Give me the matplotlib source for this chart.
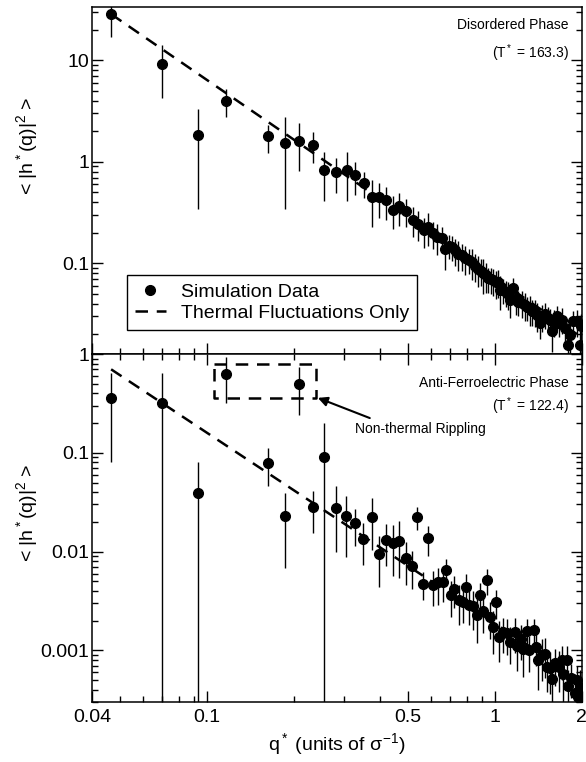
import matplotlib
matplotlib.use("Agg")
import matplotlib.pyplot as plt
from matplotlib.ticker import FixedLocator, LogLocator, NullFormatter, FuncFormatter

plt.rcParams['font.family'] = ['Liberation Sans', 'DejaVu Sans']
plt.rcParams['mathtext.fontset'] = 'custom'
plt.rcParams['mathtext.rm'] = 'Liberation Sans'
plt.rcParams['mathtext.it'] = 'Liberation Sans'

# disordered phase (T* = 163.3)
top_q = [0.0466, 0.070, 0.0934, 0.1166, 0.1636, 0.187, 0.209, 0.234, 0.256, 0.281,
         0.306, 0.327, 0.351, 0.373, 0.397, 0.42, 0.443, 0.465, 0.491, 0.52,
         0.541, 0.567, 0.586, 0.61, 0.63, 0.653, 0.67, 0.69, 0.709, 0.727,
         0.745, 0.766, 0.786, 0.81, 0.831, 0.852, 0.874, 0.892, 0.909, 0.928,
         0.946, 0.965, 0.985, 1.005, 1.025, 1.04, 1.065, 1.09, 1.11, 1.13,
         1.156, 1.18, 1.2, 1.235, 1.27, 1.295, 1.32, 1.345, 1.37, 1.40,
         1.43, 1.46, 1.49, 1.52, 1.55, 1.57, 1.60, 1.64, 1.67, 1.70,
         1.75, 1.79, 1.82, 1.87, 1.92, 1.97, 1.99]
top_h = [28.9, 9.3, 1.84, 3.99, 1.78, 1.54, 1.62, 1.47, 0.836, 0.79,
         0.836, 0.734, 0.616, 0.45, 0.45, 0.418, 0.338, 0.365, 0.328, 0.27,
         0.247, 0.212, 0.23, 0.197, 0.182, 0.176, 0.137, 0.15, 0.145, 0.135,
         0.125, 0.12, 0.112, 0.108, 0.104, 0.095, 0.089, 0.085, 0.080, 0.076,
         0.071, 0.070, 0.068, 0.065, 0.066, 0.0547, 0.055, 0.052, 0.05, 0.0437,
         0.057, 0.046, 0.042, 0.041, 0.039, 0.037, 0.036, 0.034, 0.0335, 0.031,
         0.026, 0.03, 0.0315, 0.029, 0.0278, 0.0215, 0.027, 0.03, 0.026, 0.028,
         0.023, 0.0158, 0.0199, 0.027, 0.027, 0.0158, 0.024]
top_err = [12.0, 5.0, 1.5, 1.25, 0.55, 1.2, 0.8, 0.5, 0.42, 0.3,
           0.42, 0.26, 0.18, 0.22, 0.17, 0.15, 0.12, 0.13, 0.1, 0.09,
           0.08, 0.07, 0.08, 0.06, 0.06, 0.05, 0.05, 0.04, 0.04, 0.04,
           0.04, 0.035, 0.035, 0.03, 0.035, 0.03, 0.03, 0.025, 0.03, 0.025,
           0.02, 0.02, 0.02, 0.02, 0.02, 0.02, 0.015, 0.015, 0.015, 0.015,
           0.015, 0.015, 0.012, 0.012, 0.012, 0.01, 0.012, 0.01, 0.01, 0.01,
           0.008, 0.009, 0.009, 0.008, 0.008, 0.008, 0.008, 0.008, 0.007, 0.008,
           0.007, 0.006, 0.007, 0.007, 0.008, 0.006, 0.008]

# anti-ferroelectric phase (T* = 122.4)
bot_q = [0.0466, 0.070, 0.0934, 0.1166, 0.1636, 0.187, 0.209, 0.233, 0.256, 0.281,
         0.304, 0.327, 0.349, 0.373, 0.397, 0.42, 0.443, 0.465, 0.491, 0.514,
         0.534, 0.561, 0.584, 0.610, 0.635, 0.658, 0.675, 0.701, 0.720, 0.751,
         0.776, 0.792, 0.813, 0.840, 0.863, 0.886, 0.910, 0.935, 0.960, 0.981,
         1.007, 1.03, 1.067, 1.10, 1.13, 1.17, 1.19, 1.226, 1.25, 1.29,
         1.31, 1.36, 1.39, 1.41, 1.45, 1.49, 1.51, 1.55, 1.57, 1.61,
         1.66, 1.70, 1.72, 1.77, 1.79, 1.84, 1.89, 1.92, 1.94, 1.97, 1.99]
bot_h = [0.361, 0.316, 0.0396, 0.623, 0.079, 0.0228, 0.493, 0.0283, 0.0912, 0.0279,
         0.0228, 0.0193, 0.0133, 0.0225, 0.0094, 0.0131, 0.0122, 0.0129, 0.0086, 0.0072,
         0.0225, 0.0047, 0.0136, 0.0046, 0.0049, 0.0049, 0.0065, 0.0036, 0.0042, 0.0032,
         0.0031, 0.0044, 0.0029, 0.0028, 0.0023, 0.0036, 0.0025, 0.0051, 0.0022, 0.00171,
         0.0031, 0.00137, 0.00153, 0.0015, 0.00122, 0.00153, 0.00112, 0.0013, 0.00104, 0.00158,
         0.00101, 0.0016, 0.00109, 0.0008, 0.00089, 0.00092, 0.00068, 0.00066, 0.00051, 0.00074,
         0.00068, 0.0008, 0.00058, 0.0008, 0.00044, 0.00053, 0.00037, 0.0005, 0.00034, 0.00043, 0.00032]
bot_err = [0.28, 0.33, 0.041, 0.3, 0.033, 0.016, 0.25, 0.013, 0.11, 0.018,
           0.014, 0.008, 0.006, 0.012, 0.005, 0.006, 0.0065, 0.0075, 0.004, 0.003,
           0.006, 0.0015, 0.0045, 0.0018, 0.002, 0.0018, 0.002, 0.0014, 0.0015, 0.0014,
           0.0012, 0.0015, 0.0011, 0.0012, 0.0011, 0.0012, 0.001, 0.0015, 0.0009, 0.0008,
           0.001, 0.0006, 0.0006, 0.0006, 0.0005, 0.0006, 0.0005, 0.0005, 0.0005, 0.0005,
           0.0004, 0.0005, 0.0004, 0.0004, 0.0004, 0.0004, 0.0003, 0.0003, 0.0003, 0.0003,
           0.0003, 0.0003, 0.0003, 0.0003, 0.0002, 0.0002, 0.0002, 0.0002, 0.0002, 0.0002, 0.0002]

# thermal-fluctuation fit lines (end points)
fit_q = [0.0466, 2.0]
fit_top = [28.5, 0.0186]
fit_bot = [0.70, 0.00049]

# dashed box marking the non-thermal points
box_q = [0.106, 0.239, 0.239, 0.106, 0.106]
box_h = [0.79, 0.79, 0.358, 0.358, 0.79]

xticks = [0.04, 0.1, 0.5, 1, 2]
xminor = [0.05, 0.06, 0.07, 0.08, 0.09, 0.2, 0.3, 0.4, 0.6, 0.7, 0.8, 0.9]

fig = plt.figure(figsize=(5.86, 7.62), dpi=100)
ax1 = fig.add_axes([0.157, 0.5354, 0.836, 0.4554])
ax2 = fig.add_axes([0.157, 0.0787, 0.836, 0.4567])

fmt_g = FuncFormatter(lambda v, p: f'{v:g}')
ylab = '< |h$^*$(q)|$^2$ >'
for ax in (ax1, ax2):
    ax.set_xscale('log')
    ax.set_yscale('log', nonpositive='clip')
    ax.set_xlim(0.04, 2)
    ax.xaxis.set_major_locator(FixedLocator(xticks))
    ax.xaxis.set_minor_locator(FixedLocator(xminor))
    ax.xaxis.set_major_formatter(fmt_g)
    ax.xaxis.set_minor_formatter(NullFormatter())
    ax.yaxis.set_major_locator(LogLocator(base=10, numticks=10))
    ax.yaxis.set_minor_locator(LogLocator(base=10, subs=range(2, 10), numticks=10))
    ax.yaxis.set_minor_formatter(NullFormatter())
    ax.yaxis.set_major_formatter(fmt_g)
    ax.tick_params(which='both', direction='in', right=True, labelsize=14, width=1)
    ax.tick_params(which='major', length=8)
    ax.tick_params(which='minor', length=4.5)
    ax.tick_params(axis='y', pad=2)
    ax.tick_params(axis='x', pad=5)
    for s in ax.spines.values():
        s.set_linewidth(1.1)
    ax.set_ylabel(ylab, fontsize=14)

ax1.tick_params(axis='x', which='both', top=False, labelbottom=False)
ax2.tick_params(axis='x', which='both', top=True)
ax1.set_ylim(0.0128, 33.5)
ax2.set_ylim(0.0003, 1)
ax1.yaxis.set_label_coords(-0.106, 0.60)
ax2.yaxis.set_label_coords(-0.106, 0.543)

eb = ax1.errorbar(top_q, top_h, yerr=top_err, fmt='o', color='k', ms=7,
                  elinewidth=1.0, capsize=0, zorder=3)
fit1, = ax1.plot(fit_q, fit_top, color='k', lw=1.8, dashes=(5, 3.5), zorder=2)

ax2.errorbar(bot_q, bot_h, yerr=bot_err, fmt='o', color='k', ms=7,
             elinewidth=1.0, capsize=0, zorder=3)
ax2.plot(fit_q, fit_bot, color='k', lw=1.8, dashes=(5, 3.5), zorder=2)
ax2.plot(box_q, box_h, color='k', lw=1.8, dashes=(5, 3.5), zorder=2)

ax1.legend([eb[0], fit1], ['Simulation Data', 'Thermal Fluctuations Only'],
           loc='lower left', bbox_to_anchor=(0.071, 0.069), fontsize=14,
           frameon=True, fancybox=False, edgecolor='k', framealpha=1,
           handlelength=1.6, handletextpad=0.8, labelspacing=0.2,
           borderpad=0.4, borderaxespad=0)

ax1.text(0.973, 0.948, 'Disordered Phase', transform=ax1.transAxes,
         ha='right', va='center', fontsize=10)
ax1.text(0.973, 0.868, '(T$^*$ = 163.3)', transform=ax1.transAxes,
         ha='right', va='center', fontsize=10)
ax2.text(0.973, 0.917, 'Anti-Ferroelectric Phase', transform=ax2.transAxes,
         ha='right', va='center', fontsize=10)
ax2.text(0.973, 0.851, '(T$^*$ = 122.4)', transform=ax2.transAxes,
         ha='right', va='center', fontsize=10)
ax2.text(0.537, 0.784, 'Non-thermal Rippling', transform=ax2.transAxes,
         ha='left', va='center', fontsize=10)
ax2.annotate('', xy=(0.461, 0.874), xytext=(0.567, 0.816),
             xycoords='axes fraction', textcoords='axes fraction',
             arrowprops=dict(arrowstyle='-|>', color='k', lw=1.5,
                             mutation_scale=14, shrinkA=0, shrinkB=0))

ax2.set_xlabel('q$^*$ (units of $\\sigma^{-1}$)', fontsize=14)

fig.savefig('out.png', dpi=100)
